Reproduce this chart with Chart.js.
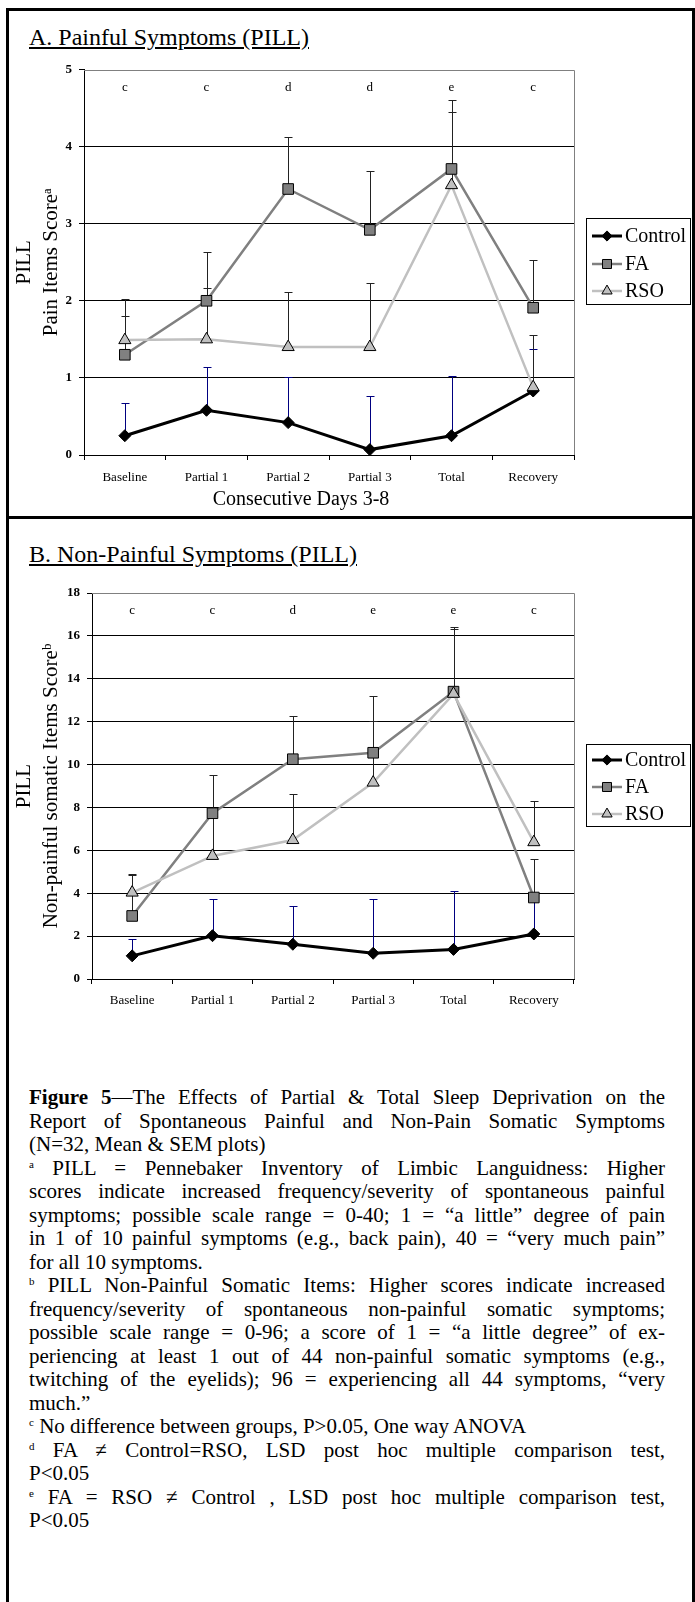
<!DOCTYPE html>
<html>
<head>
<meta charset="utf-8">
<script src="https://cdn.jsdelivr.net/npm/chart.js@4.4.1/dist/chart.umd.min.js"></script>
<style>
  body { margin: 0; width: 695px; height: 1602px; overflow: hidden; background: #fff; position: relative;
         font-family: "Liberation Serif", "Times New Roman", serif; color: #000; }
  #frame { position: absolute; left: 6px; top: 8px; width: 689px; height: 1620px; border: 3px solid #000; box-sizing: border-box; }
  #divider { position: absolute; left: 6px; top: 516px; width: 689px; height: 3px; background: #000; }
  .ptitle { position: absolute; left: 29px; font-size: 24px; line-height: 24px; text-decoration: underline; white-space: nowrap; }
  canvas { position: absolute; left: 0; }
  #caption { position: absolute; left: 29px; top: 1086px; width: 636px; font-size: 21px; line-height: 23.5px; }
  #caption div { text-align: justify; text-align-last: justify; white-space: nowrap; }
  #caption div.end { text-align-last: left; }
  sup { font-size: 11px; line-height: 0; vertical-align: 7px; }
</style>
</head>
<body>
<div id="frame"></div>
<div id="divider"></div>
<div class="ptitle" style="top:25px">A. Painful Symptoms (PILL)</div>
<canvas id="chartA" width="695" height="460" style="top:50px"></canvas>
<div class="ptitle" style="top:542px">B. Non-Painful Symptoms (PILL)</div>
<canvas id="chartB" width="695" height="434" style="top:575px"></canvas>
<div id="caption">
  <div><b>Figure 5</b>—The Effects of Partial &amp; Total Sleep Deprivation on the</div>
  <div>Report of Spontaneous Painful and Non-Pain Somatic Symptoms</div>
  <div class="end">(N=32, Mean &amp; SEM plots)</div>
  <div><sup>a</sup> PILL = Pennebaker Inventory of Limbic Languidness: Higher</div>
  <div>scores indicate increased frequency/severity of spontaneous painful</div>
  <div>symptoms; possible scale range = 0-40; 1 = “a little” degree of pain</div>
  <div>in 1 of 10 painful symptoms (e.g., back pain), 40 = “very much pain”</div>
  <div class="end">for all 10 symptoms.</div>
  <div><sup>b</sup> PILL Non-Painful Somatic Items: Higher scores indicate increased</div>
  <div>frequency/severity of spontaneous non-painful somatic symptoms;</div>
  <div>possible scale range = 0-96; a score of 1 = “a little degree” of ex-</div>
  <div>periencing at least 1 out of 44 non-painful somatic symptoms (e.g.,</div>
  <div>twitching of the eyelids); 96 = experiencing all 44 symptoms, “very</div>
  <div class="end">much.”</div>
  <div class="end"><sup>c</sup> No difference between groups, P&gt;0.05, One way ANOVA</div>
  <div><sup>d</sup> FA ≠ Control=RSO, LSD post hoc multiple comparison test,</div>
  <div class="end">P&lt;0.05</div>
  <div><sup>e</sup> FA = RSO ≠ Control , LSD post hoc multiple comparison test,</div>
  <div class="end">P&lt;0.05</div>
</div>
<script>
const FONT = '"Liberation Serif", "Times New Roman", serif';

const categories = ['Baseline', 'Partial 1', 'Partial 2', 'Partial 3', 'Total', 'Recovery'];
const seriesNames = ['Control', 'FA', 'RSO'];

// A. painful symptoms (means + upper end of the SEM bar)
const painControl    = [0.25, 0.58, 0.42, 0.07, 0.25, 0.83];
const painFA         = [1.30, 2.00, 3.45, 2.92, 3.71, 1.91];
const painRSO        = [1.49, 1.50, 1.40, 1.40, 3.50, 0.88];
const painControlTop = [0.68, 1.14, 1.01, 0.77, 1.02, 1.38];
const painFATop      = [2.02, 2.63, 4.13, 3.68, 4.60, 2.53];
const painRSOTop     = [1.80, 2.17, 2.12, 2.23, 4.45, 1.55];
const painLetters    = ['c', 'c', 'd', 'd', 'e', 'c'];
const painTicks      = [0, 1, 2, 3, 4, 5];

// B. non-painful symptoms
const somControl    = [1.08, 2.02, 1.62, 1.20, 1.38, 2.10];
const somFA         = [2.94, 7.73, 10.25, 10.55, 13.40, 3.80];
const somRSO        = [4.03, 5.74, 6.48, 9.16, 13.30, 6.38];
const somControlTop = [1.88, 3.74, 3.42, 3.72, 4.09, 3.90];
const somFATop      = [4.90, 9.50, 12.25, 13.20, 16.43, 5.61];
const somRSOTop     = [4.85, 7.60, 8.61, 12.05, 16.32, 8.32];
const somLetters    = ['c', 'c', 'd', 'e', 'e', 'c'];
const somTicks      = [0, 2, 4, 6, 8, 10, 12, 14, 16, 18];

// SEM whiskers, drawn under the lines
const errorBars = {
  id: 'errorBars',
  beforeDatasetsDraw(chart) {
    const ctx = chart.ctx, y = chart.scales.y;
    chart.data.datasets.forEach((ds, i) => {
      const meta = chart.getDatasetMeta(i);
      ctx.save();
      ctx.strokeStyle = ds.errColor;
      ctx.lineWidth = 1;
      meta.data.forEach((pt, j) => {
        const top = Math.round(y.getPixelForValue(ds.errTop[j])) + 0.5;
        const x = Math.round(pt.x) + 0.5;
        ctx.beginPath();
        ctx.moveTo(x, pt.y);
        ctx.lineTo(x, top);
        ctx.moveTo(x - 4, top);
        ctx.lineTo(x + 4, top);
        ctx.stroke();
      });
      ctx.restore();
    });
  }
};

// plot frame, significance letters, x title and the boxed legend
const extras = {
  id: 'extras',
  beforeDatasetsDraw(chart) {
    const { ctx, chartArea: a } = chart;
    ctx.save();
    ctx.strokeStyle = '#808080';
    ctx.lineWidth = 1;
    ctx.beginPath();
    ctx.moveTo(a.left, Math.round(a.top) + 0.5);
    ctx.lineTo(Math.round(a.right) + 0.5, Math.round(a.top) + 0.5);
    ctx.lineTo(Math.round(a.right) + 0.5, a.bottom);
    ctx.stroke();
    ctx.restore();
  },
  afterDraw(chart, args, o) {
    const { ctx, scales: { x, y } } = chart;
    ctx.save();
    ctx.fillStyle = '#000';
    ctx.textAlign = 'center';
    ctx.textBaseline = 'middle';
    ctx.font = '13px ' + FONT;
    o.letters.forEach((t, i) => ctx.fillText(t, x.getPixelForValue(i), y.getPixelForValue(o.letterY)));
    if (o.xTitle) {
      ctx.font = '20px ' + FONT;
      ctx.fillText(o.xTitle, o.xTitleX, o.xTitleY);
    }
    const L = o.legend;
    ctx.fillStyle = '#fff';
    ctx.fillRect(L.x, L.y, L.w, L.h);
    ctx.strokeStyle = '#000';
    ctx.lineWidth = 1;
    ctx.strokeRect(L.x + 0.5, L.y + 0.5, L.w, L.h);
    chart.data.datasets.forEach((ds, i) => {
      const cy = L.y + L.rows[i];
      ctx.strokeStyle = ds.borderColor;
      ctx.lineWidth = ds.borderWidth;
      ctx.beginPath();
      ctx.moveTo(L.x + 6, cy);
      ctx.lineTo(L.x + 36, cy);
      ctx.stroke();
      ctx.fillStyle = ds.pointBackgroundColor;
      ctx.strokeStyle = ds.pointBorderColor;
      ctx.lineWidth = ds.pointBorderWidth;
      Chart.helpers.drawPoint(ctx, { pointStyle: ds.pointStyle, radius: ds.pointRadius * 0.85, rotation: 0, borderWidth: ds.pointBorderWidth }, L.x + 21, cy);
      ctx.fillStyle = '#000';
      ctx.textAlign = 'left';
      ctx.font = '20px ' + FONT;
      ctx.fillText(ds.label, L.x + 39, cy + 1);
    });
    ctx.restore();
  }
};

function makeDatasets(ctrl, fa, rso, ctrlTop, faTop, rsoTop) {
  return [
    { label: seriesNames[0], data: ctrl, errTop: ctrlTop, errColor: '#000080', order: 3,
      borderColor: '#000', borderWidth: 3, pointStyle: 'rectRot', pointRadius: 6,
      pointBackgroundColor: '#000', pointBorderColor: '#000', pointBorderWidth: 1 },
    { label: seriesNames[1], data: fa, errTop: faTop, errColor: '#222', order: 2,
      borderColor: '#808080', borderWidth: 2.5, pointStyle: 'rect', pointRadius: 7.5,
      pointBackgroundColor: '#808080', pointBorderColor: '#000', pointBorderWidth: 1 },
    { label: seriesNames[2], data: rso, errTop: rsoTop, errColor: '#222', order: 1,
      borderColor: '#C0C0C0', borderWidth: 2.5, pointStyle: 'triangle', pointRadius: 7,
      pointBackgroundColor: '#C0C0C0', pointBorderColor: '#000', pointBorderWidth: 1 }
  ];
}

function makeChart(id, cfg) {
  return new Chart(document.getElementById(id), {
    type: 'line',
    data: { labels: categories, datasets: cfg.datasets },
    plugins: [errorBars, extras],
    options: {
      responsive: false,
      animation: false,
      layout: { padding: { top: cfg.padTop, right: 121, bottom: 0, left: 0 } },
      elements: { line: { tension: 0 } },
      plugins: {
        legend: { display: false },
        tooltip: { enabled: false },
        extras: cfg.extras
      },
      scales: {
        x: {
          offset: true,
          grid: { offset: true, drawOnChartArea: false, drawTicks: true, tickLength: 5, color: '#000' },
          border: { color: '#000', width: 1 },
          ticks: { color: '#000', font: { family: FONT, size: 13 }, padding: cfg.xPad, maxRotation: 0 },
          afterFit: s => { s.height = cfg.xHeight; }
        },
        y: {
          min: cfg.ticks[0],
          max: cfg.ticks[cfg.ticks.length - 1],
          afterBuildTicks: s => { s.ticks = cfg.ticks.map(v => ({ value: v })); },
          grid: {
            color: c => (c.tick && c.tick.value === cfg.ticks[cfg.ticks.length - 1]) ? 'rgba(0,0,0,0)' : '#000',
            tickColor: '#000', tickLength: 5
          },
          border: { color: '#000', width: 1 },
          ticks: { color: '#000', font: { family: FONT, size: 13, weight: 'bold' }, padding: 7 },
          title: { display: true, text: cfg.yTitle, color: '#000',
                   font: { family: FONT, size: 21, lineHeight: 1.29 }, padding: { top: 11, bottom: 0 } },
          afterFit: s => { s.width = cfg.yWidth; }
        }
      }
    }
  });
}

makeChart('chartA', {
  datasets: makeDatasets(painControl, painFA, painRSO, painControlTop, painFATop, painRSOTop),
  ticks: painTicks,
  padTop: 19.5, xHeight: 55, xPad: 10, yWidth: 84,
  yTitle: ['PILL', 'Pain Items Scoreᵃ'],
  extras: {
    letters: painLetters, letterY: 4.76,
    xTitle: 'Consecutive Days 3-8', xTitleX: 301, xTitleY: 450,
    legend: { x: 586, y: 168, w: 104, h: 86, rows: [18, 46, 73] }
  }
});

makeChart('chartB', {
  datasets: makeDatasets(somControl, somFA, somRSO, somControlTop, somFATop, somRSOTop),
  ticks: somTicks,
  padTop: 18, xHeight: 30, xPad: 9, yWidth: 92,
  yTitle: ['PILL', 'Non-painful somatic Items Scoreᵇ'],
  extras: {
    letters: somLetters, letterY: 17.2,
    legend: { x: 586, y: 169, w: 104, h: 82, rows: [16, 43, 70] }
  }
});
</script>
</body>
</html>
